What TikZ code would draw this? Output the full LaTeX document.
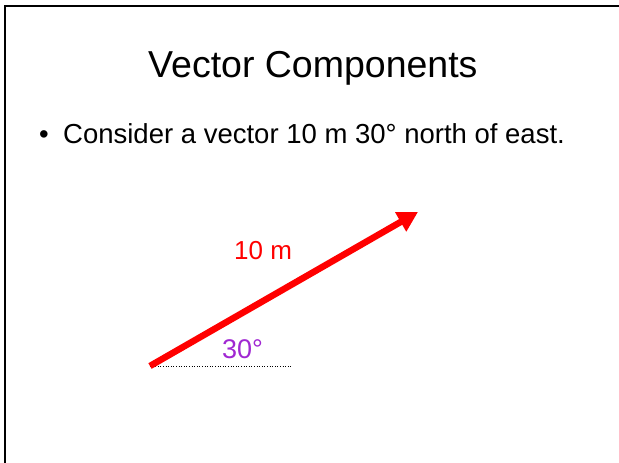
\documentclass[tikz,border=0pt]{standalone}
\usepackage{fontspec}
\setmainfont{Liberation Sans}
\usepackage{tikz}
\usetikzlibrary{arrows.meta,positioning,calc}
\usepackage{xcolor}
\definecolor{ink}{RGB}{0,0,0}
\definecolor{cVec}{RGB}{255,0,0}
\definecolor{cAng}{RGB}{160,40,210}
\tikzset{
  frame/.style={draw=ink,line width=2.5pt},
  vec/.style={draw=cVec,line width=6.5pt,-{Triangle[length=20pt,width=21pt]}},
  refline/.style={draw=ink,line width=0.6pt,dotted},
  txt/.style={inner sep=0pt,anchor=base west},
}

\begin{document}
\begin{tikzpicture}[x=1pt,y=-1pt]
  \useasboundingbox (0,0) rectangle (619,463);
  \draw[frame] (5,463) -- (5,6) -- (619,6);
  \node[txt] (title) at (148,77) {\fontsize{37.5}{40}\selectfont Vector Components};
  \node[inner sep=0pt,anchor=base] (dot) at (44,143) {\fontsize{27.5}{30}\selectfont •};
  \node[txt] (item) at (63,143) {\fontsize{27.5}{30}\selectfont Consider a vector 10 m 30° north of east.};
  \coordinate (tail) at (150,366);
  \coordinate (head) at (418,212);
  \coordinate (ref) at (291,366);
  \draw[refline] (tail) -- (ref);
  \draw[vec] (tail) -- (head);
  \node[txt,cVec] (len) at (234,259) {\fontsize{26}{28}\selectfont 10 m};
  \node[txt,cAng] (ang) at (222,358) {\fontsize{27}{29}\selectfont 30°};
\end{tikzpicture}
\end{document}
